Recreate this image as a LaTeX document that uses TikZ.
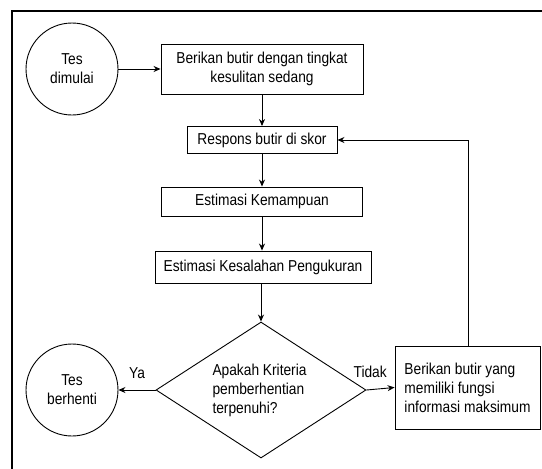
\documentclass[tikz,border=0pt]{standalone}
\usepackage{fontspec}
\setmainfont[FakeStretch=0.87]{Liberation Sans}
\usepackage{tikz}
\usetikzlibrary{arrows.meta,shapes.geometric}
\tikzset{
  box/.style={draw,rectangle,line width=0.9pt,inner sep=0pt},
  terminal/.style={draw,circle,line width=0.9pt,minimum size=92pt,inner sep=0pt,align=center},
  decision/.style={draw,diamond,line width=0.9pt,inner sep=0pt,minimum width=210pt,minimum height=136pt,aspect=1.54},
  flow/.style={line width=0.9pt,-{Stealth[length=7pt,width=6pt]}},
  frame line/.style={line width=2.5pt},
  small label/.style={font=\fontsize{15.8}{19}\selectfont}
}

\begin{document}
\begin{tikzpicture}[x=1pt,y=-1pt,small label]
			\useasboundingbox (0,0) rectangle (542,469);
			\draw[frame line] (12,470) |- (543,11);
			% nodes
			\node[terminal] (start) at (72,69) {Tes\\dimulai};
			\node[box,minimum width=202pt,minimum height=50pt,align=center] (give) at (262,69) {Berikan butir dengan tingkat\\kesulitan sedang};
			\node[box,minimum width=150pt,minimum height=27pt] (score) at (262,140) {Respons butir di skor};
			\node[box,minimum width=201pt,minimum height=29pt] (ability) at (262,201.5) {Estimasi Kemampuan};
			\node[box,minimum width=216pt,minimum height=32pt] (error) at (263,267) {Estimasi Kesalahan Pengukuran};
			\node[decision] (check) at (261,390) {};
			\node[align=left,anchor=west] (question) at (209,390) {Apakah Kriteria\\pemberhentian\\terpenuhi?};
			\node[terminal] (stop) at (72,390) {Tes\\berhenti};
			\node[box,minimum width=145pt,minimum height=83pt,align=left] (next) at (467.5,387.5) {Berikan butir yang\\memiliki fungsi\\informasi maksimum};
			% connectors
			\draw[flow] (start) -- (give);
			\draw[flow] (give.south -| score.north) -- (score.north);
			\draw[flow] (score.south) -- (score.south |- ability.north);
			\draw[flow] (ability.south) -- (ability.south |- error.north);
			\draw[flow] (error.south -| check.north) -- (check.north);
			\draw[flow] (check.west) -- node[above=8pt] {Ya} (stop.east);
			\draw[flow] (check.east) -- node[pos=1,anchor=south east,xshift=-4pt,yshift=6pt] {Tidak} (next.west);
			\draw[flow] (next.north -| 468,0) |- (score.east);
		\end{tikzpicture}
\end{document}
